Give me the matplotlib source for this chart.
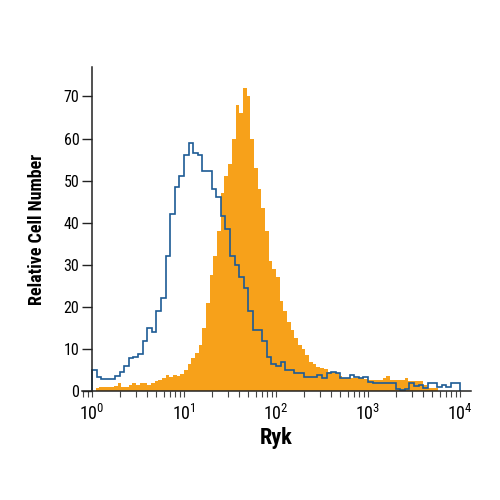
import numpy as np
import matplotlib
matplotlib.use("Agg")
import matplotlib.pyplot as plt
from matplotlib import font_manager
from matplotlib.ticker import LogLocator, NullFormatter

# pick a narrow face if one is installed
narrow = "DejaVu Sans"
for name in ["Liberation Sans Narrow", "DejaVu Sans Condensed", "Roboto Condensed", "Open Sans Condensed"]:
    try:
        font_manager.findfont(font_manager.FontProperties(family=name), fallback_to_default=False)
        narrow = name
        break
    except ValueError:
        pass

plt.rcParams['font.family'] = [narrow, 'DejaVu Sans']
plt.rcParams['mathtext.fontset'] = 'custom'
plt.rcParams['mathtext.rm'] = narrow

# orange: stained sample, 100 bins over 4 decades (0.04 decade each)
ryk_counts = [
    0, 0.8, 1, 1, 1, 1, 1.2, 2, 1, 1,
    1.5, 2, 1.5, 2, 1.8, 1.5, 2, 2.3, 2.6, 3,
    3.7, 3.3, 3.7, 3.5, 4, 5, 6.5, 7.8, 9, 11,
    15, 21, 27.5, 32, 38, 47, 51, 54, 60, 68,
    66, 72, 70, 60, 53, 48, 43.5, 38, 31, 29,
    27, 21.5, 19, 16.5, 14.5, 12.5, 11, 10, 8.5, 7,
    6.5, 5.7, 5.5, 5.2, 4.6, 4.5, 4.2, 3.6, 3.2, 3,
    3, 3, 3, 3, 2.8, 2.6, 2.6, 2.6, 2.6, 3,
    3.6, 2.5, 2.5, 2.5, 2.6, 3.2, 2.4, 2.4, 2.4, 2.4,
    1.5, 0.8, 0.7, 0.7, 0, 0, 0, 0, 0, 0,
]

# blue: isotype control, 80 bins over 4 decades (0.05 decade each)
control_counts = [
    5, 3.3, 2.8, 2.8, 2.8, 3.6, 4.5, 6, 7.8, 8,
    8.8, 12, 15, 14, 19, 22, 32, 42, 48.5, 51,
    56, 58.9, 56.5, 56, 52.4, 52.4, 48, 46, 41.5, 38.5,
    32, 30, 27, 24.5, 19, 14.5, 14.5, 12, 8, 6.5,
    6, 7, 5, 5, 4.3, 4.3, 3.4, 3.4, 3.4, 3.8,
    3, 4.3, 4.6, 4.3, 3, 3, 3.8, 3.4, 3.2, 3.3,
    2.2, 2, 2, 2, 2, 2, 0.5, 0.3, 0.5, 1.9,
    1.2, 1.5, 0.8, 2, 2, 1, 1.5, 1, 2, 2,
]

ryk_edges = 10 ** np.linspace(0, 4, len(ryk_counts) + 1)
control_edges = 10 ** np.linspace(0, 4, len(control_counts) + 1)

fig = plt.figure(figsize=(5, 5), dpi=100)
ax = fig.add_axes([0.164, 0.218, 0.778, 0.648])

ax.stairs(ryk_counts, ryk_edges, fill=True, color="#f7a11a", linewidth=0)
ax.stairs(control_counts, control_edges, color="#1d5b95", linewidth=1.2)

ax.set_xscale("log")
ax.set_xlim(10 ** (-10 / 92), 10 ** (379 / 92))
ax.set_ylim(0, 77)

ax.spines["top"].set_visible(False)
ax.spines["right"].set_visible(False)
ax.spines["left"].set_position(("data", 1))
for s in ["left", "bottom"]:
    ax.spines[s].set_linewidth(1.1)
    ax.spines[s].set_color("#222222")

ax.set_yticks(range(0, 71, 10))
ax.xaxis.set_major_locator(LogLocator(base=10, numticks=10))
ax.xaxis.set_minor_locator(LogLocator(base=10, subs=np.arange(2, 10), numticks=10))
ax.xaxis.set_minor_formatter(NullFormatter())
ax.set_xticks([1, 10, 100, 1000, 10000])

ax.tick_params(axis="y", direction="out", length=7, width=1, labelsize=11.5, pad=2, color="#222222")
ax.tick_params(axis="x", which="both", direction="out", length=4, width=0.8, labelsize=13, pad=5, color="#444444")

ax.set_xlabel("Ryk", fontsize=16, fontweight="bold")
ax.set_ylabel("Relative Cell Number", fontsize=13, fontweight="bold")
ax.xaxis.set_label_coords(0.5, -0.112)
ax.yaxis.set_label_coords(-0.092, 0.5)

plt.savefig("out.png", dpi=100)
